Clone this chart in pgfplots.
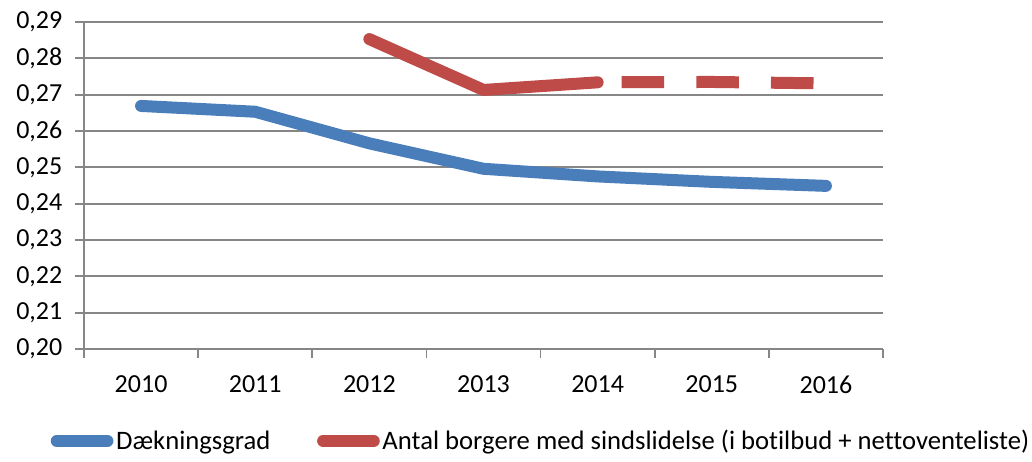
\documentclass[border=0pt]{standalone}
\usepackage{fontspec}
\setmainfont{Carlito}[Ligatures=NoCommon]
\usepackage{pgfplots}
\pgfplotsset{compat=1.18}
\definecolor{cblue}{HTML}{4A7EBB}
\definecolor{cred}{HTML}{BE4B48}
\definecolor{cgrid}{HTML}{868686}
\begin{document}
\begin{tikzpicture}
\path[use as bounding box] (0pt,0pt) rectangle (774pt,345.75pt);
\begin{axis}[
  at={(63pt,84pt)}, anchor=south west,
  scale only axis, width=599.25pt, height=245.25pt,
  xmin=-0.5, xmax=6.5, ymin=0.2, ymax=0.29,
  axis x line*=bottom, axis y line*=left,
  axis line style={cgrid, line width=1.3pt, -},
  xtick={0,...,6},
  xticklabels={2010,2011,2012,2013,2014,2015,2016},
  minor xtick={-0.5,0.5,...,6.5},
  major x tick style={draw=none},
  minor x tick style={cgrid, line width=1.3pt},
  minor tick length=6.75pt,
  ytick={0.20,0.21,...,0.295},
  major tick length=6.75pt,
  y tick style={cgrid, line width=1.3pt},
  tick align=outside,
  ymajorgrids,
  major grid style={cgrid, line width=1.3pt},
  /pgf/number format/use comma,
  /pgf/number format/fixed,
  /pgf/number format/fixed zerofill,
  /pgf/number format/precision=2,
  /pgf/number format/assume math mode=true,
  tick label style={font=\fontsize{19.5}{23}\selectfont},
  yticklabel style={xshift=-6pt},
  xticklabel style={yshift=-10pt},
  legend style={at={(0.5724,-0.281)}, anchor=center, draw=none, legend columns=2,
    font=\fontsize{20}{24}\selectfont, /tikz/every even column/.append style={column sep=33pt}},
  legend image code/.code={\draw[#1, line width=9pt, line cap=round] (0pt,0pt) -- (38pt,0pt);},
  clip=false,
]
\addplot[cblue, line width=9pt, line cap=round, line join=round] coordinates {
 (0,0.2669) (1,0.2653) (2,0.2566) (3,0.2496) (4,0.2475) (5,0.2460) (6,0.2449)};
\addlegendentry{Dækningsgrad}
\addplot[cred, line width=9pt, line cap=round, line join=round] coordinates {
 (2,0.2853) (3,0.2713) (4,0.2734)};
\addlegendentry{Antal borgere med sindslidelse (i botilbud + nettoventeliste)}
\addplot[cred, line width=9pt, line cap=butt, dash pattern=on 31.9pt off 24.1pt, dash phase=38pt, forget plot] coordinates {
 (4,0.2734) (5,0.2735) (6,0.2731)};
\end{axis}
\end{tikzpicture}
\end{document}
